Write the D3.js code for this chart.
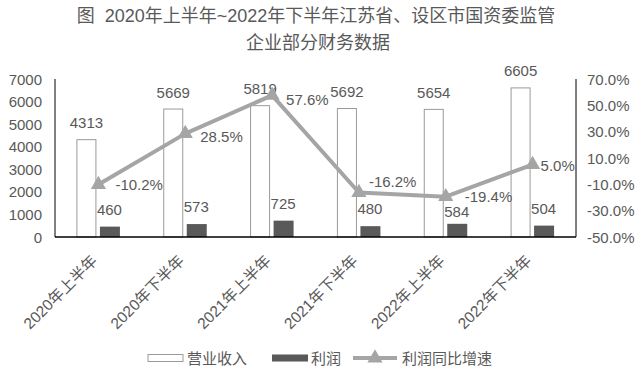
<!DOCTYPE html>
<html>
<head>
<meta charset="utf-8">
<script src="https://cdn.jsdelivr.net/npm/d3@7.9.0/dist/d3.min.js"></script>
<style>
  body { margin: 0; background: #fff; }
  svg { display: block; }
  text { font-family: "Liberation Sans", "Noto Sans CJK SC", sans-serif; fill: #595959; white-space: pre; }
</style>
</head>
<body>
<svg id="chart" width="643" height="371"></svg>
<script>
const periods = ['2020年上半年', '2020年下半年', '2021年上半年', '2021年下半年', '2022年上半年', '2022年下半年'];
const revenue = [4313, 5669, 5819, 5692, 5654, 6605];
const profit = [460, 573, 725, 480, 584, 504];
const growth = [-10.2, 28.5, 57.6, -16.2, -19.4, 5.0];
const leftTicks = [0, 1000, 2000, 3000, 4000, 5000, 6000, 7000];
const rightTicks = [-50, -30, -10, 10, 30, 50, 70];

// label nudges (as in the original layout)
const growthLabelShift = [[17, 0], [15, 3], [14, 4], [10, -11], [19, 0], [8, 1]];
const profitLabelShift = [-17, -18, -17, -18, -12, -17];

const svg = d3.select('#chart');
const plotLeft = 55, plotRight = 576, plotTop = 79, plotBottom = 237;

const x = d3.scaleBand().domain(periods).range([plotLeft, plotRight]);
const yL = d3.scaleLinear().domain([0, 7000]).range([plotBottom, plotTop]);
const yR = d3.scaleLinear().domain([-50, 70]).range([plotBottom, plotTop]);
const cx = d => x(d) + x.bandwidth() / 2;
const pct = d => d.toFixed(1) + '%';

// title
svg.append('text').attr('x', 316).attr('y', 16).attr('text-anchor', 'middle')
  .attr('dominant-baseline', 'central').style('font-size', '18px')
  .text('图  2020年上半年~2022年下半年江苏省、设区市国资委监管');
svg.append('text').attr('x', 318).attr('y', 43).attr('text-anchor', 'middle')
  .attr('dominant-baseline', 'central').style('font-size', '18px')
  .text('企业部分财务数据');

// bars
const g = svg.append('g');
g.selectAll('rect.rev').data(revenue).enter().append('rect')
  .attr('x', (d, i) => cx(periods[i]) - 21.5)
  .attr('y', d => yL(d))
  .attr('width', 19)
  .attr('height', d => plotBottom - yL(d))
  .attr('fill', '#fff').attr('stroke', '#9a9a9a').attr('stroke-width', 1);

g.selectAll('rect.pro').data(profit).enter().append('rect')
  .attr('x', (d, i) => cx(periods[i]) + 1.5)
  .attr('y', d => yL(d))
  .attr('width', 20)
  .attr('height', d => plotBottom - yL(d))
  .attr('fill', '#595959');

// bar labels
g.selectAll('text.rev').data(revenue).enter().append('text')
  .attr('x', (d, i) => cx(periods[i]) - 12)
  .attr('y', d => yL(d) - 17)
  .attr('text-anchor', 'middle').attr('dominant-baseline', 'central')
  .style('font-size', '15px').text(d => d);

g.selectAll('text.pro').data(profit).enter().append('text')
  .attr('x', (d, i) => cx(periods[i]) + 11)
  .attr('y', (d, i) => yL(d) + profitLabelShift[i])
  .attr('text-anchor', 'middle').attr('dominant-baseline', 'central')
  .style('font-size', '15px').text(d => d);

// axes lines
svg.append('line').attr('x1', plotLeft).attr('x2', plotLeft).attr('y1', plotTop).attr('y2', plotBottom)
  .attr('stroke', '#000').attr('stroke-width', 1);
svg.append('line').attr('x1', plotRight).attr('x2', plotRight).attr('y1', plotTop).attr('y2', plotBottom)
  .attr('stroke', '#000').attr('stroke-width', 1);
svg.append('line').attr('x1', plotLeft).attr('x2', plotRight).attr('y1', plotBottom).attr('y2', plotBottom)
  .attr('stroke', '#000').attr('stroke-width', 1.5);

// tick labels
svg.selectAll('text.lt').data(leftTicks).enter().append('text')
  .attr('x', 42).attr('y', d => yL(d))
  .attr('text-anchor', 'end').attr('dominant-baseline', 'central')
  .style('font-size', '15px').text(d => d);

svg.selectAll('text.rt').data(rightTicks).enter().append('text')
  .attr('x', 587).attr('y', d => yR(d))
  .attr('text-anchor', 'start').attr('dominant-baseline', 'central')
  .style('font-size', '15px').text(pct);

svg.selectAll('text.xl').data(periods).enter().append('text')
  .attr('transform', d => `translate(${cx(d) - 4},${258}) rotate(-45)`)
  .attr('text-anchor', 'end').attr('dominant-baseline', 'central')
  .style('font-size', '15.5px').text(d => d);

// growth line
const line = d3.line().x((d, i) => cx(periods[i])).y(d => yR(d));
svg.append('path').datum(growth).attr('d', line)
  .attr('fill', 'none').attr('stroke', '#a5a5a5').attr('stroke-width', 4)
  .attr('stroke-linejoin', 'round');

const tri = d3.symbol().type(d3.symbolTriangle).size(100);
svg.selectAll('path.mk').data(growth).enter().append('path')
  .attr('d', tri)
  .attr('transform', (d, i) => `translate(${cx(periods[i])},${yR(d)})`)
  .attr('fill', '#a5a5a5');

svg.selectAll('text.gl').data(growth).enter().append('text')
  .attr('x', (d, i) => cx(periods[i]) + growthLabelShift[i][0])
  .attr('y', (d, i) => yR(d) + growthLabelShift[i][1])
  .attr('dominant-baseline', 'central')
  .style('font-size', '15px').text(pct);

// legend
const ly = 358;
const lg = svg.append('g');
lg.append('rect').attr('x', 148).attr('y', ly - 3.5).attr('width', 35).attr('height', 7)
  .attr('fill', '#fff').attr('stroke', '#9a9a9a');
lg.append('text').attr('x', 187).attr('y', ly).attr('dominant-baseline', 'central')
  .style('font-size', '15px').text('营业收入');
lg.append('rect').attr('x', 272).attr('y', ly - 3.5).attr('width', 36).attr('height', 7)
  .attr('fill', '#595959');
lg.append('text').attr('x', 311).attr('y', ly).attr('dominant-baseline', 'central')
  .style('font-size', '15px').text('利润');
lg.append('line').attr('x1', 353).attr('x2', 397).attr('y1', ly).attr('y2', ly)
  .attr('stroke', '#a5a5a5').attr('stroke-width', 4);
lg.append('path').attr('d', tri).attr('transform', `translate(375,${ly})`).attr('fill', '#a5a5a5');
lg.append('text').attr('x', 402).attr('y', ly).attr('dominant-baseline', 'central')
  .style('font-size', '15px').text('利润同比增速');
</script>
</body>
</html>
